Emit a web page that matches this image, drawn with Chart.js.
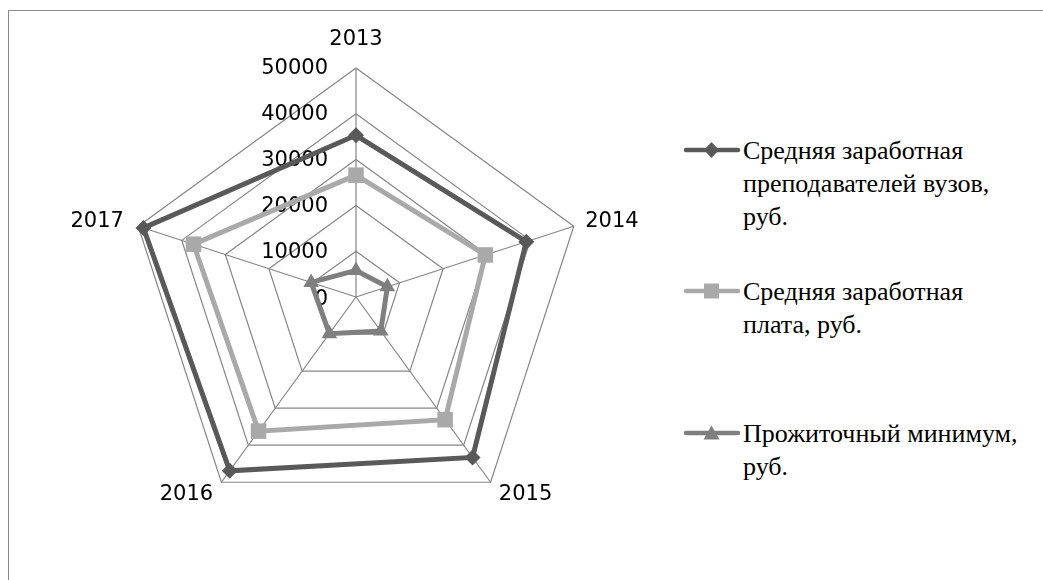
<!DOCTYPE html>
<html>
<head>
<meta charset="utf-8">
<script src="https://cdn.jsdelivr.net/npm/chart.js@4.4.0/dist/chart.umd.min.js"></script>
<style>
  html, body { margin: 0; padding: 0; background: #fff; width: 1043px; height: 580px; overflow: hidden; }
  #frame { position: absolute; left: 8px; top: 10px; width: 1100px; height: 640px; border: 1px solid #898989; }
  #wrap { position: absolute; left: 36px; top: 25px; width: 640px; height: 517px; }
  .legend-item { position: absolute; left: 683px; width: 360px; }
  .legend-item svg { position: absolute; left: 0; top: 6px; }
  .legend-item .txt {
    position: absolute; left: 60px; top: 0; white-space: nowrap;
    font-family: "Liberation Serif", "DejaVu Serif", "Times New Roman", serif;
    font-size: 26px; line-height: 33px; color: #000;
  }
</style>
</head>
<body>
<div id="frame"></div>
<div id="wrap"><canvas id="radar"></canvas></div>
<div id="legend"></div>
<script>
// Categories (years) and series values
const years = ['2013', '2014', '2015', '2016', '2017'];
const teacherSalary = [35300, 39100, 43300, 46900, 48800];
const avgSalary = [26600, 29700, 33100, 36200, 37300];
const livingWage = [5800, 7200, 9200, 9900, 10300];

// Series names, split the way the legend wraps them
const seriesNames = [
    ['Средняя заработная', 'преподавателей вузов,', 'руб.'],
    ['Средняя заработная', 'плата, руб.'],
    ['Прожиточный минимум,', 'руб.']
];

// Radial axis ticks
const tickValues = [0, 10000, 20000, 30000, 40000, 50000];
const tickLabels = ['0', '10000', '20000', '30000', '40000', '50000'];

// Extra distance of each year label from the outer ring
const labelPadding = [28, 12, 14, 14, 15];

const gridColor = '#858585';

// Draw radial tick labels to the left of the vertical axis
const tickLabelPlugin = {
    id: 'tickLabels',
    beforeDatasetsDraw(chart) {
        const r = chart.scales.r;
        const ctx = chart.ctx;
        ctx.save();
        ctx.font = '21px "DejaVu Sans"';
        ctx.fillStyle = '#000';
        ctx.textAlign = 'right';
        ctx.textBaseline = 'middle';
        tickValues.forEach(function (v, i) {
            const d = r.getDistanceFromCenterForValue(v);
            ctx.fillText(tickLabels[i], r.xCenter - 28, r.yCenter - d + (i === 0 ? 3 : 1));
        });
        ctx.restore();
    }
};

const datasets = [
    {
        label: seriesNames[0].join(' '),
        data: teacherSalary,
        borderColor: '#595959',
        backgroundColor: '#595959',
        pointStyle: 'rectRot',
        pointRadius: 8
    },
    {
        label: seriesNames[1].join(' '),
        data: avgSalary,
        borderColor: '#a9a9a9',
        backgroundColor: '#a9a9a9',
        pointStyle: 'rect',
        pointRadius: 11
    },
    {
        label: seriesNames[2].join(' '),
        data: livingWage,
        borderColor: '#7f7f7f',
        backgroundColor: '#7f7f7f',
        pointStyle: 'triangle',
        pointRadius: 9
    }
];
datasets.forEach(function (ds) {
    ds.borderWidth = 5;
    ds.fill = false;
    ds.tension = 0;
    ds.pointBorderWidth = 0;
    ds.pointHoverRadius = ds.pointRadius;
});

const ctx = document.getElementById('radar').getContext('2d');
const radarChart = new Chart(ctx, {
    type: 'radar',
    data: { labels: years, datasets: datasets },
    options: {
        responsive: true,
        maintainAspectRatio: false,
        animation: false,
        layout: { padding: 0 },
        plugins: {
            legend: { display: false },
            tooltip: { enabled: false }
        },
        scales: {
            r: {
                min: 0,
                max: 50000,
                ticks: { stepSize: 10000, display: false },
                grid: { color: gridColor, lineWidth: 1.2 },
                angleLines: { color: gridColor, lineWidth: 1.2 },
                pointLabels: {
                    color: '#000',
                    font: { family: 'DejaVu Sans', size: 21, lineHeight: '1px' },
                    padding: function (c) { return labelPadding[c.index]; }
                }
            }
        }
    },
    plugins: [tickLabelPlugin]
});

// Legend on the right, built from the datasets
const legendTops = [134, 275, 417];
function markerSvg(ds) {
    const c = ds.borderColor;
    let m = '';
    if (ds.pointStyle === 'rectRot') {
        m = '<polygon points="28.5,2 36,10 28.5,18 21,10" fill="' + c + '"/>';
    } else if (ds.pointStyle === 'rect') {
        m = '<rect x="21" y="2.5" width="15" height="15" fill="' + c + '"/>';
    } else {
        m = '<polygon points="28.5,2.5 36.5,16.5 20.5,16.5" fill="' + c + '"/>';
    }
    return '<svg width="58" height="20"><line x1="3" y1="10" x2="55" y2="10" stroke="' + c +
        '" stroke-width="4.5" stroke-linecap="round"/>' + m + '</svg>';
}
const legend = document.getElementById('legend');
datasets.forEach(function (ds, i) {
    const item = document.createElement('div');
    item.className = 'legend-item';
    item.style.top = legendTops[i] + 'px';
    item.innerHTML = markerSvg(ds) + '<div class="txt">' + seriesNames[i].join('<br>') + '</div>';
    legend.appendChild(item);
});
</script>
</body>
</html>
